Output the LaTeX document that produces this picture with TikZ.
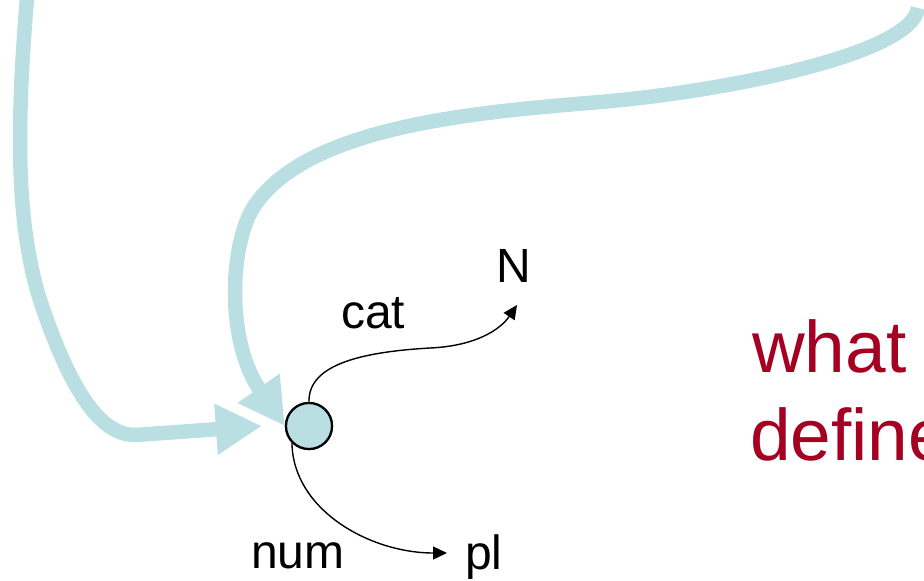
\documentclass[tikz,border=0pt]{standalone}
\usepackage{fontspec}
\setmainfont{Liberation Sans}
\usetikzlibrary{arrows.meta}
\definecolor{lblue}{RGB}{185,223,227}
\definecolor{dred}{RGB}{165,0,33}
\tikzset{
  bigarrow/.style={draw=lblue, line width=14.5pt, -{Triangle[length=46pt,width=48pt]}, color=lblue},
  thinarrow/.style={draw=black, line width=1.4pt, -{Triangle[length=14pt,width=13pt]}},
  lbl/.style={inner sep=0pt, anchor=base west, font=\fontsize{48}{58}\selectfont},
  redtxt/.style={inner sep=0pt, anchor=base west, text=dred, font=\fontsize{73}{88}\selectfont},
  featnode/.style={circle, draw=black, fill=lblue, minimum size=46pt, inner sep=0pt, line width=2.2pt}
}
\begin{document}
\begin{tikzpicture}[x=1pt,y=-1pt]
\useasboundingbox (0,0) rectangle (924,581);
\node[featnode] (c) at (309,426) {};
\coordinate (topL) at (27,-2);
\coordinate (topR) at (918,8);
\coordinate (Ntip) at (517,305);
\coordinate (pltip) at (447,553);
% left thick arrow
\draw[bigarrow] (topL) .. controls (17,120) and (15,220) .. (40,300)
  .. controls (70,390) and (100,435) .. (135,435)
  -- ([xshift=-23pt]c.west);
% upper thick arrow
\draw[bigarrow] (topR) .. controls (912,55) and (720,92) .. (600,102)
  .. controls (480,112) and (310,125) .. (255,205)
  .. controls (230,241) and (225,340) .. (c.west);
\node[featnode] at (c) {};
% labels
\node[lbl] (N) at (496,282) {N};
\node[lbl] (pl) at (465,569) {pl};
\node[lbl] (cat) at (341,328) {cat};
\node[lbl] (num) at (251,568) {num};
\draw[thinarrow] (c.north) .. controls (308,365) and (360,352) .. (430,348)
  .. controls (475,346) and (500,330) .. (Ntip);
\draw[thinarrow] (c.225) .. controls (293,510) and (370,553) .. (pltip);
% red text
\node[redtxt] (what) at (752,372) {what};
\node[redtxt] (defines) at (750,460) {define};
\end{tikzpicture}
\end{document}
